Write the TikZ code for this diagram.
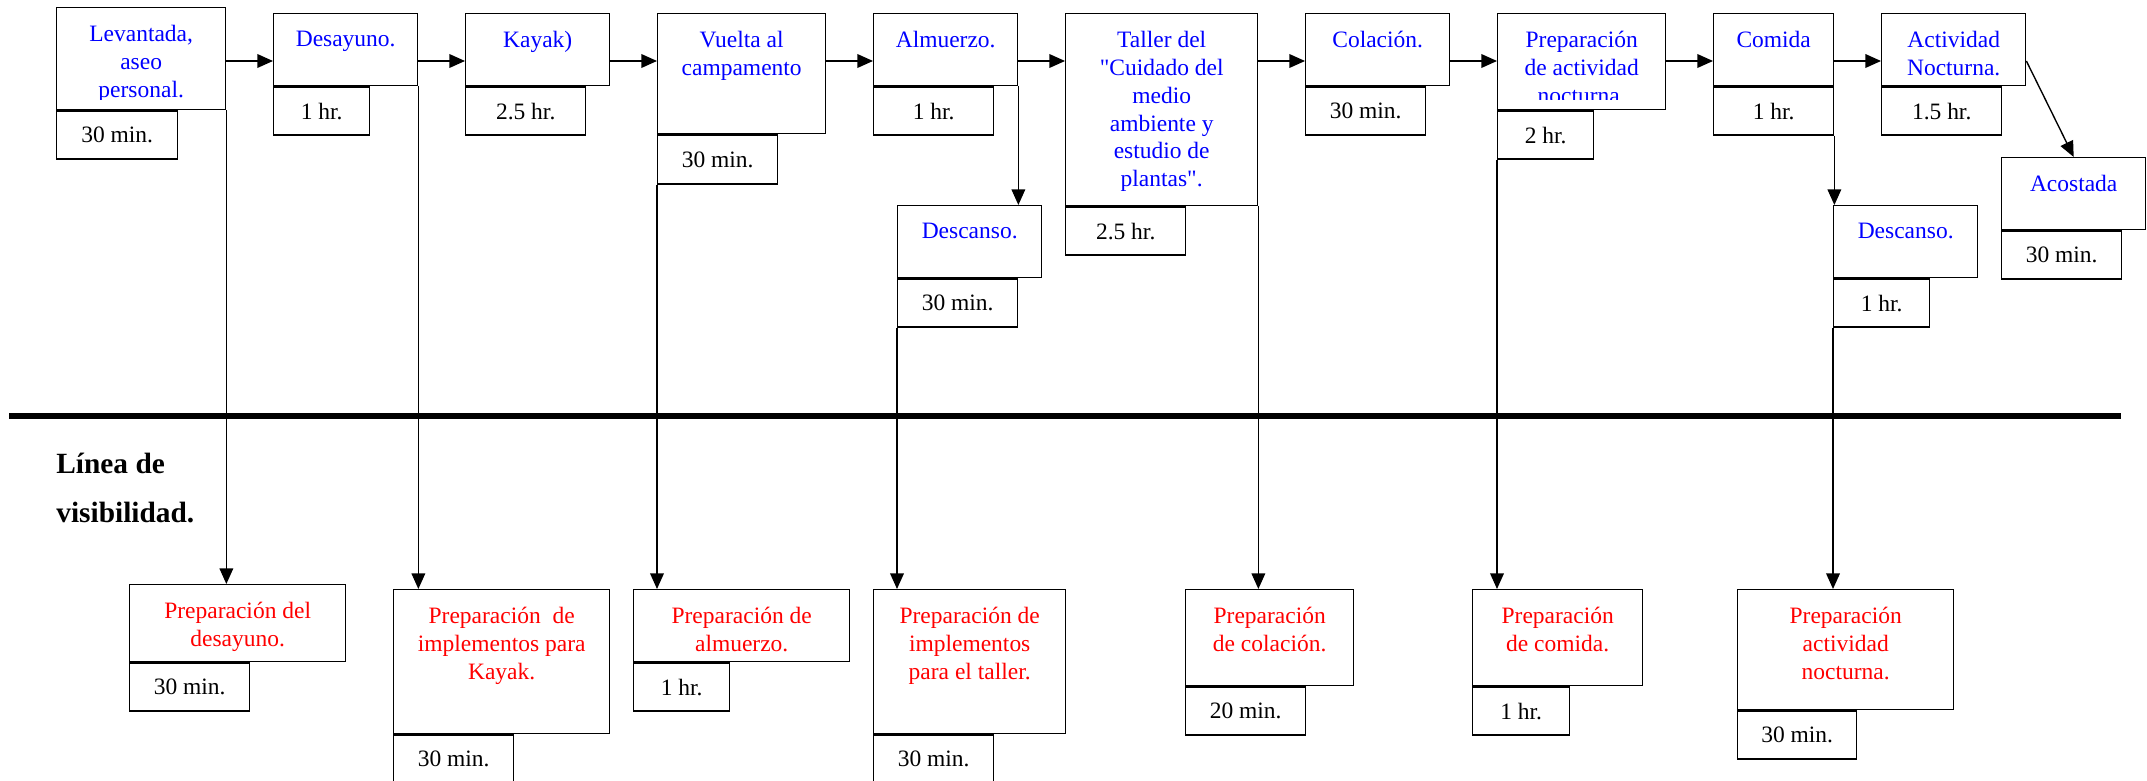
\documentclass[tikz,border=0pt]{standalone}
\usepackage{fontspec}
\setmainfont{Liberation Serif}[Ligatures=TeXOff]
\usetikzlibrary{arrows.meta}

\newcommand{\upx}{0.511pt}

\tikzset{
  caja/.style={draw, line width=0.7pt, inner sep=0pt, anchor=north west},
  tam/.style 2 args={minimum width=#1*\upx, minimum height=#2*\upx},
  tiempo/.style={caja, minimum height=48*\upx},
  texto/.style={align=center, anchor=north, inner sep=0pt, yshift=-18*\upx},
  azul/.style={texto, text=blue},
  rojo/.style={texto, text=red},
  flecha/.style={-{Triangle[length=8pt,width=7pt]}, line width=0.7pt},
  linea/.style={line width=2.7pt},
}

\begin{document}
\begin{tikzpicture}[x=\upx, y=-\upx, font=\fontsize{12}{14.2}\selectfont]
  \useasboundingbox (0,0) rectangle (2147,781);
  \coordinate (fila) at (0,61);

  \node[caja, tam={169}{102}] (lev) at (56,7) {};
  \begin{scope}
    \clip (lev.north west) rectangle ([yshift=11*\upx]lev.south east);
    \node[azul] (levL) at (lev.north) {Levantada,\\aseo\\personal.};
  \end{scope}
  \node[tiempo, tam={121}{48}] (levT) at (lev.south west) {30 min.};

  \node[caja, tam={144}{72}] (des) at (273,13) {};
  \node[azul] (desL) at (des.north) {Desayuno.};
  \node[tiempo, tam={96}{48}] (desT) at (des.south west) {1 hr.};

  \node[caja, tam={144}{72}] (kay) at (465,13) {};
  \node[azul] (kayL) at (kay.north) {Kayak)};
  \node[tiempo, tam={120}{48}] (kayT) at (kay.south west) {2.5 hr.};

  \node[caja, tam={168}{120}] (vue) at (657,13) {};
  \node[azul] (vueL) at (vue.north) {Vuelta al\\campamento};
  \node[tiempo, tam={120}{49}] (vueT) at (vue.south west) {30 min.};

  \node[caja, tam={144}{72}] (alm) at (873,13) {};
  \node[azul] (almL) at (alm.north) {Almuerzo.};
  \node[tiempo, tam={120}{48}] (almT) at (alm.south west) {1 hr.};

  \node[caja, tam={144}{72}] (dsc) at (897,205) {};
  \node[azul] (dscL) at (dsc.north) {Descanso.};
  \node[tiempo, tam={120}{48}] (dscT) at (dsc.south west) {30 min.};

  \node[caja, tam={192}{192}] (tal) at (1065,13) {};
  \node[azul] (talL) at (tal.north) {Taller del\\"Cuidado del\\medio\\ambiente y\\estudio de\\plantas".};
  \node[tiempo, tam={120}{48}] (talT) at (tal.south west) {2.5 hr.};

  \node[caja, tam={144}{72}] (col) at (1305,13) {};
  \node[azul] (colL) at (col.north) {Colación.};
  \node[tiempo, tam={120}{48}] (colT) at (col.south west) {30 min.};

  \node[caja, tam={168}{96}] (pan) at (1497,13) {};
  \begin{scope}
    \clip (pan.north west) rectangle ([yshift=11*\upx]pan.south east);
    \node[azul] (panL) at (pan.north) {Preparación\\de actividad\\nocturna.};
  \end{scope}
  \node[tiempo, tam={96}{48}] (panT) at (pan.south west) {2 hr.};

  \node[caja, tam={120}{72}] (com) at (1713,13) {};
  \node[azul] (comL) at (com.north) {Comida};
  \node[tiempo, tam={120}{48}] (comT) at (com.south west) {1 hr.};

  \node[caja, tam={144}{72}] (act) at (1881,13) {};
  \node[azul] (actL) at (act.north) {Actividad\\Nocturna.};
  \node[tiempo, tam={120}{48}] (actT) at (act.south west) {1.5 hr.};

  \node[caja, tam={144}{72}] (aco) at (2001,157) {};
  \node[azul] (acoL) at (aco.north) {Acostada};
  \node[tiempo, tam={120}{48}] (acoT) at (aco.south west) {30 min.};

  \node[caja, tam={144}{72}] (ds2) at (1833,205) {};
  \node[azul] (ds2L) at (ds2.north) {Descanso.};
  \node[tiempo, tam={96}{48}] (ds2T) at (ds2.south west) {1 hr.};

  \coordinate (visA) at (9,416);
  \coordinate (visB) at (2121,416);
  \draw[linea] (visA) -- (visB);
  \node[anchor=north west, inner sep=0pt, align=left,
    font=\fontsize{15}{25}\selectfont\bfseries] (vis) at (56,453) {Línea de\\visibilidad.};

  \node[caja, tam={216}{77}] (pdes) at (129,584) {};
  \node[rojo] (pdesL) at (pdes.north) {Preparación del\\desayuno.};
  \node[tiempo, tam={120}{48}] (pdesT) at (pdes.south west) {30 min.};

  \node[caja, tam={216}{144}] (pkay) at (393,589) {};
  \node[rojo] (pkayL) at (pkay.north) {Preparación\ \ de\\implementos para\\Kayak.};
  \node[tiempo, tam={120}{47}] (pkayT) at (pkay.south west) {30 min.};

  \node[caja, tam={216}{72}] (palm) at (633,589) {};
  \node[rojo] (palmL) at (palm.north) {Preparación de\\almuerzo.};
  \node[tiempo, tam={96}{48}] (palmT) at (palm.south west) {1 hr.};

  \node[caja, tam={192}{144}] (ptal) at (873,589) {};
  \node[rojo] (ptalL) at (ptal.north) {Preparación de\\implementos\\para el taller.};
  \node[tiempo, tam={120}{47}] (ptalT) at (ptal.south west) {30 min.};

  \node[caja, tam={168}{96}] (pcol) at (1185,589) {};
  \node[rojo] (pcolL) at (pcol.north) {Preparación\\de colación.};
  \node[tiempo, tam={120}{48}] (pcolT) at (pcol.south west) {20 min.};

  \node[caja, tam={170}{96}] (pcom) at (1472,589) {};
  \node[rojo] (pcomL) at (pcom.north) {Preparación\\de comida.};
  \node[tiempo, tam={97}{48}] (pcomT) at (pcom.south west) {1 hr.};

  \node[caja, tam={216}{120}] (pact) at (1737,589) {};
  \node[rojo] (pactL) at (pact.north) {Preparación\\actividad\\nocturna.};
  \node[tiempo, tam={119}{48}] (pactT) at (pact.south west) {30 min.};

  \foreach \a/\b in {lev/des, des/kay, kay/vue, vue/alm, alm/tal, tal/col, col/pan, pan/com, com/act}
    \draw[flecha] (\a.east |- fila) -- (\b.west |- fila);
  \draw[flecha] (act.east |- fila) -- (aco.north);
  \draw[flecha] (alm.south east) -- (alm.south east |- dsc.north);
  \draw[flecha] (comT.south east) -- (comT.south east |- ds2.north);

  \draw[flecha] (lev.south east) -- (lev.south east |- pdes.north);
  \draw[flecha] (des.south east) -- (des.south east |- pkay.north);
  \draw[flecha] (vueT.south west) -- (vueT.south west |- palm.north);
  \draw[flecha] (dscT.south west) -- (dscT.south west |- ptal.north);
  \draw[flecha] (tal.south east) -- (tal.south east |- pcol.north);
  \draw[flecha] (panT.south west) -- (panT.south west |- pcom.north);
  \draw[flecha] (ds2T.south west) -- (ds2T.south west |- pact.north);
\end{tikzpicture}
\end{document}
